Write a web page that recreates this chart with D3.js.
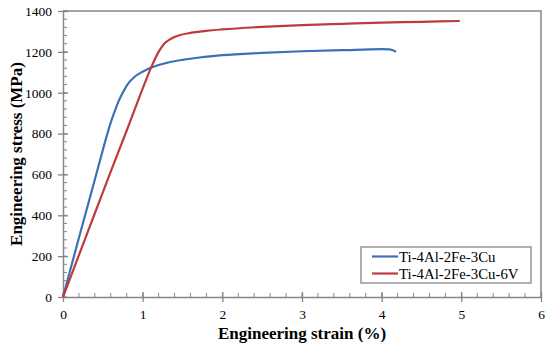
<!DOCTYPE html>
<html>
<head>
<meta charset="utf-8">
<script src="https://cdn.jsdelivr.net/npm/d3@7"></script>
<style>
  body { margin: 0; background: #fff; }
  svg { display: block; }
  text { font-family: "Liberation Serif", "DejaVu Serif", serif; }
</style>
</head>
<body>
<svg class="graphic" width="550" height="353"></svg>
<script>
// series names
const seriesNames = ["Ti-4Al-2Fe-3Cu", "Ti-4Al-2Fe-3Cu-6V"];

// strain (%) / stress (MPa)
const cuStrain = [0, 0.2, 0.4, 0.5, 0.6, 0.65, 0.7, 0.75, 0.8, 0.9, 1.0, 1.1, 1.3, 1.5, 1.75, 2, 2.5, 3, 3.5, 4, 4.1, 4.18];
const cuStress = [0, 290, 575, 720, 855, 910, 960, 1000, 1035, 1078, 1103, 1122, 1146, 1161, 1174, 1184, 1195, 1203, 1208, 1213, 1212, 1201];

const vStrain = [0, 0.2, 0.4, 0.6, 0.8, 1.0, 1.1, 1.2, 1.27, 1.35, 1.45, 1.6, 1.8, 2, 2.5, 3, 3.5, 4, 4.5, 4.98];
const vStress = [0, 205, 410, 615, 815, 1020, 1118, 1200, 1240, 1263, 1280, 1293, 1303, 1310, 1322, 1331, 1337, 1343, 1347, 1351];

const xTicks = [0, 1, 2, 3, 4, 5, 6];
const yTicks = [0, 200, 400, 600, 800, 1000, 1200, 1400];

const colors = ["#3e70b6", "#be3b3b"];
const AXIS = "#868686";
const FONT = "'Liberation Serif', 'DejaVu Serif', serif";

const MARGIN = { top: 11, right: 9, bottom: 56, left: 63 };
const W = 550, H = 353;
const w = W - MARGIN.left - MARGIN.right;
const h = H - MARGIN.top - MARGIN.bottom;

const $svg = d3.select(".graphic");
const g = $svg.append("g").attr("transform", `translate(${MARGIN.left},${MARGIN.top})`);

const x = d3.scaleLinear().domain([0, 6]).range([0, w]);
const y = d3.scaleLinear().domain([0, 1400]).range([h, 0]);

// frame top + right
g.append("path")
  .attr("d", `M0,0H${w}V${h}`)
  .attr("fill", "none").attr("stroke", AXIS).attr("stroke-width", 1.5);

// minor ticks
const xMinor = d3.range(0, 6.0001, 0.2);
g.append("g").selectAll("line").data(xMinor).join("line")
  .attr("x1", d => x(d)).attr("x2", d => x(d))
  .attr("y1", h).attr("y2", h - 4)
  .attr("stroke", AXIS).attr("stroke-width", 1);
const yMinor = d3.range(0, 1400.001, 40);
g.append("g").selectAll("line").data(yMinor).join("line")
  .attr("y1", d => y(d)).attr("y2", d => y(d))
  .attr("x1", 0).attr("x2", 4)
  .attr("stroke", AXIS).attr("stroke-width", 1);

// x axis
g.append("g")
  .attr("transform", `translate(0,${h})`)
  .call(d3.axisBottom(x).tickValues(xTicks).tickFormat(d3.format("d")).tickSizeInner(5).tickSizeOuter(0).tickPadding(7))
  .attr("font-family", FONT).attr("font-size", 13.5)
  .call(a => a.select(".domain").attr("stroke", AXIS).attr("stroke-width", 1.5))
  .call(a => a.selectAll(".tick line").attr("stroke", AXIS).attr("stroke-width", 1.3).attr("y1", -5))
  .call(a => a.selectAll(".tick text").attr("fill", "#000"));

// y axis
g.append("g")
  .call(d3.axisLeft(y).tickValues(yTicks).tickFormat(d3.format("d")).tickSizeInner(5).tickSizeOuter(0).tickPadding(6))
  .attr("font-family", FONT).attr("font-size", 13.5)
  .call(a => a.select(".domain").attr("stroke", AXIS).attr("stroke-width", 1.5))
  .call(a => a.selectAll(".tick line").attr("stroke", AXIS).attr("stroke-width", 1.3).attr("x1", 5))
  .call(a => a.selectAll(".tick text").attr("fill", "#000"));

// curves
const series = [
  cuStrain.map((s, i) => ({ s, p: cuStress[i] })),
  vStrain.map((s, i) => ({ s, p: vStress[i] }))
];
const line = d3.line().x(d => x(d.s)).y(d => y(d.p)).curve(d3.curveMonotoneX);
series.forEach((data, i) => {
  g.append("path").datum(data)
    .attr("d", line)
    .attr("fill", "none")
    .attr("stroke", colors[i])
    .attr("stroke-width", 2.2)
    .attr("stroke-linejoin", "round");
});

// axis titles
$svg.append("text")
  .attr("x", MARGIN.left + w / 2).attr("y", 339)
  .attr("text-anchor", "middle").attr("font-family", FONT)
  .attr("font-weight", "bold").attr("font-size", "17px")
  .text("Engineering strain (%)");
$svg.append("text")
  .attr("transform", `translate(22,${MARGIN.top + h / 2}) rotate(-90)`)
  .attr("text-anchor", "middle").attr("font-family", FONT)
  .attr("font-weight", "bold").attr("font-size", "17px")
  .text("Engineering stress (MPa)");

// legend
const lg = $svg.append("g").attr("transform", "translate(361,247)");
lg.append("rect").attr("width", 170).attr("height", 36)
  .attr("fill", "#fff").attr("stroke", AXIS).attr("stroke-width", 1.3);
seriesNames.forEach((name, i) => {
  const yy = 9.5 + i * 17;
  lg.append("line").attr("x1", 11).attr("x2", 37).attr("y1", yy).attr("y2", yy)
    .attr("stroke", colors[i]).attr("stroke-width", 2.2);
  lg.append("text").attr("x", 38).attr("y", yy).attr("dy", "0.35em")
    .attr("font-family", FONT).attr("font-size", "14.8px").text(name);
});
</script>
</body>
</html>
